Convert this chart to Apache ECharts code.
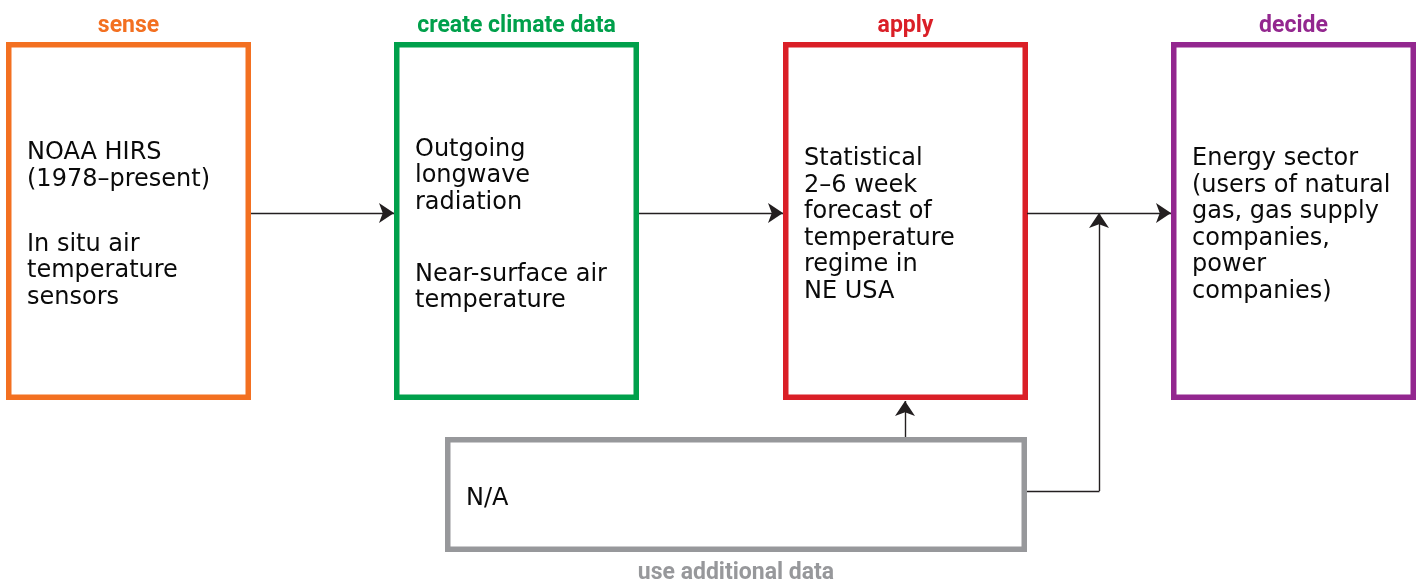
<!DOCTYPE html>
<html>
<head>
<meta charset="utf-8">
<script src="https://cdn.jsdelivr.net/npm/echarts@6/dist/echarts.min.js"></script>
<style>
  html, body { margin: 0; padding: 0; background: #fff; }
  #main { width: 1422px; height: 581px; }
</style>
</head>
<body>
<div id="main"></div>
<script>
// stage titles, colours and box texts (one entry per paragraph)
var stageNames = ['sense', 'create climate data', 'apply', 'decide'];
var stageColors = ['#F37021', '#00A04B', '#DA1F27', '#93278F'];
var stageText = [
    ['NOAA HIRS\n(1978–present)', 'In situ air\ntemperature\nsensors'],
    ['Outgoing\nlongwave\nradiation', 'Near-surface air\ntemperature'],
    ['Statistical\n2–6 week\nforecast of\ntemperature\nregime in\nNE USA'],
    ['Energy sector\n(users of natural\ngas, gas supply\ncompanies,\npower\ncompanies)']
];
var extraName = 'use additional data';
var extraColor = '#97989B';
var extraText = ['N/A'];

// box extents in the hidden 1422 x 581 coordinate frame
var boxLeft = [6, 394, 783, 1171];
var boxWidth = 245;
var boxTop = 42, boxBottom = 400;
var extraBox = [445, 437, 1027, 552];
var paraGap = [65, 72, 0, 0];

// connectors
var arrowLinks = [
    [[251, 213], [394, 213]],
    [[639, 213], [783, 213]],
    [[1027, 213], [1171, 213]],
    [[905, 437], [905, 401]],
    [[1099, 491], [1099, 213]]
];
var plainLinks = [
    [[1026, 491], [1099.5, 491]]
];

var LINE_H = 26.5;
var BW = 5.5;
var BODY_FONT = '24px "DejaVu Sans"';
var TITLE_FONT = 'bold 23px Roboto';

var boxData = [];
for (var i = 0; i < stageNames.length; i++) {
    boxData.push([boxLeft[i], boxTop, boxLeft[i] + boxWidth, boxBottom, i]);
}
boxData.push([extraBox[0], extraBox[1], extraBox[2], extraBox[3], -1]);

function renderBox(params, api) {
    var idx = api.value(4);
    var p0 = api.coord([api.value(0), api.value(1)]);
    var p1 = api.coord([api.value(2), api.value(3)]);
    var color = idx >= 0 ? stageColors[idx] : extraColor;
    var name = idx >= 0 ? stageNames[idx] : extraName;
    var paras = idx >= 0 ? stageText[idx] : extraText;
    var gap = idx >= 0 ? paraGap[idx] : 0;
    var children = [{
        type: 'rect',
        shape: { x: p0[0] + BW / 2, y: p0[1] + BW / 2, width: p1[0] - p0[0] - BW, height: p1[1] - p0[1] - BW },
        style: { fill: '#fff', stroke: color, lineWidth: BW }
    }];
    // baselines of all lines, block centred a bit below box middle
    var lines = [];
    var off = 0;
    paras.forEach(function (p) {
        p.split('\n').forEach(function (ln, j) {
            if (lines.length) off += (j === 0 ? gap : LINE_H);
            lines.push([ln, off]);
        });
    });
    var cy = (p0[1] + p1[1]) / 2 + 12.5;
    var first = cy - off / 2;
    lines.forEach(function (l) {
        children.push({
            type: 'text',
            style: {
                text: l[0], x: p0[0] + 21, y: first + l[1] - 8,
                font: BODY_FONT, fill: '#0a0a0a', verticalAlign: 'middle', align: 'left'
            }
        });
    });
    var cx = (p0[0] + p1[0]) / 2;
    children.push({
        type: 'text',
        style: {
            text: name, x: cx, y: idx >= 0 ? p0[1] - 16 : p1[1] + 21,
            font: TITLE_FONT, fill: color, align: 'center', verticalAlign: 'middle'
        }
    });
    return { type: 'group', children: children };
}

var chart = echarts.init(document.getElementById('main'));
chart.setOption({
    animation: false,
    backgroundColor: '#fff',
    grid: { left: 0, right: 0, top: 0, bottom: 0 },
    xAxis: { type: 'value', min: 0, max: 1422, show: false },
    yAxis: { type: 'value', min: 0, max: 581, inverse: true, show: false },
    series: [
        {
            type: 'lines',
            coordinateSystem: 'cartesian2d',
            symbol: ['none', 'none'],
            lineStyle: { color: '#231F20', width: 1.4, opacity: 1 },
            data: plainLinks.map(function (c) { return { coords: c }; }),
            z: 1
        },
        {
            type: 'lines',
            coordinateSystem: 'cartesian2d',
            symbol: ['none', 'arrow'],
            symbolSize: 15,
            lineStyle: { color: '#231F20', width: 1.4, opacity: 1 },
            data: arrowLinks.map(function (c) { return { coords: c }; }),
            z: 3
        },
        {
            type: 'custom',
            renderItem: renderBox,
            data: boxData,
            z: 2
        }
    ]
});
</script>
</body>
</html>
